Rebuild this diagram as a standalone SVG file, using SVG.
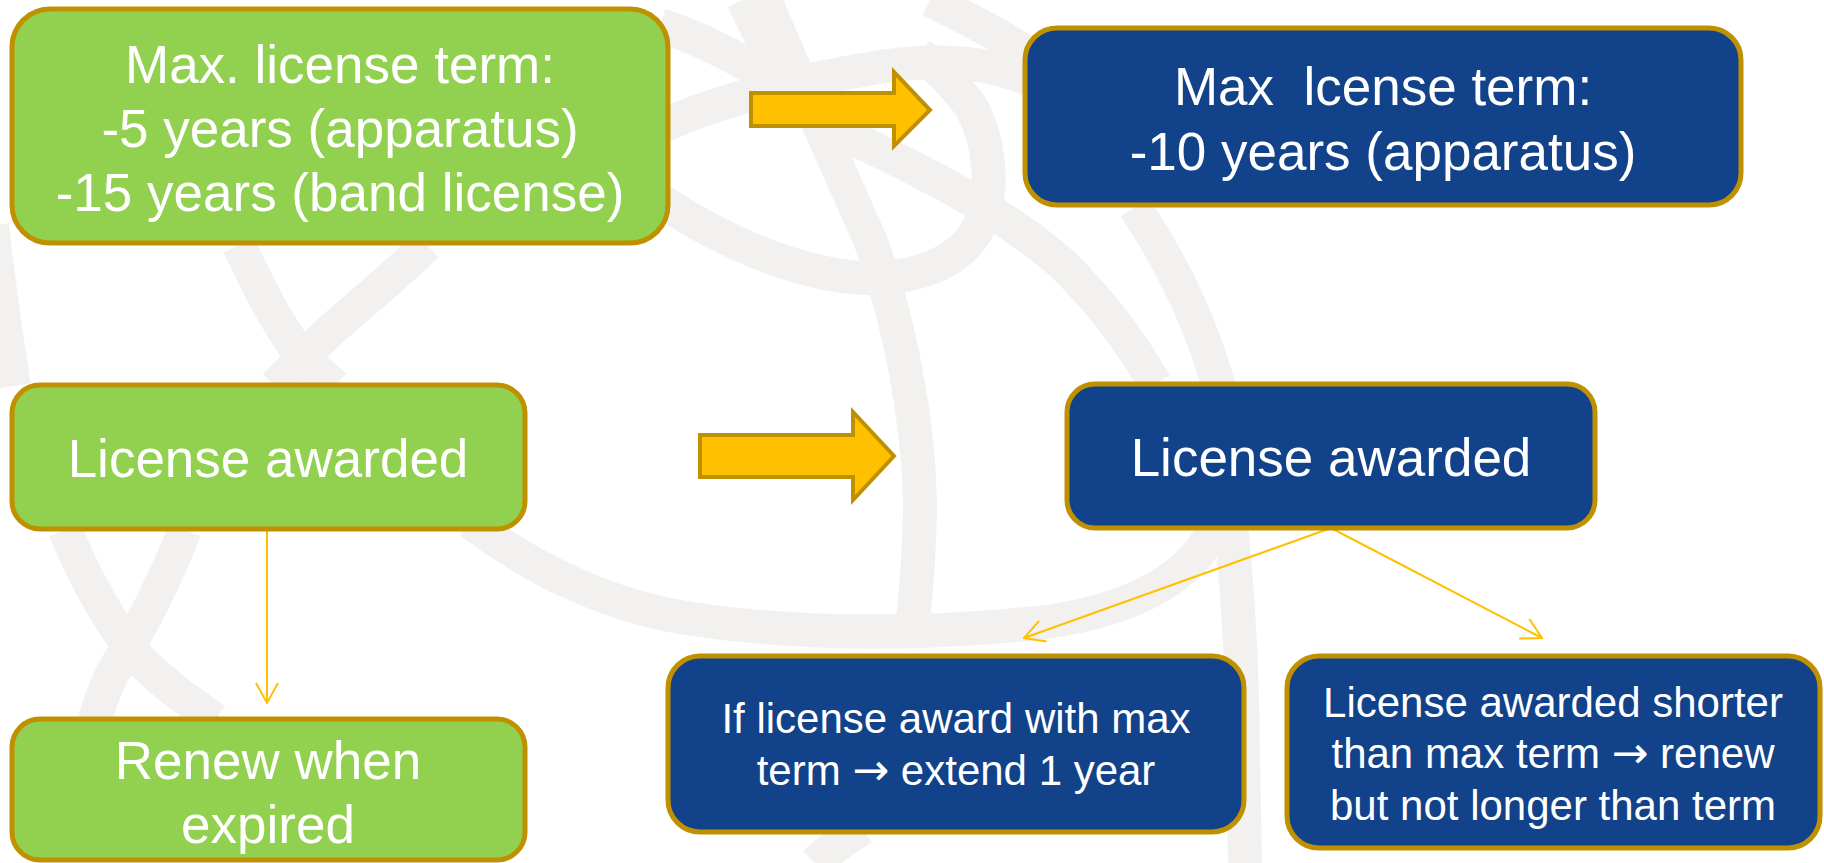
<svg xmlns="http://www.w3.org/2000/svg" width="1824" height="863" viewBox="0 0 1824 863">
<defs>
<style>
.bg{fill:none;stroke:#F2F1EF;stroke-width:34;stroke-linecap:butt}
.green{fill:#92D050;stroke:#BF9000;stroke-width:5}
.blue{fill:#11428A;stroke:#BF9000;stroke-width:5}
.big{font-family:"Liberation Sans",Arial,sans-serif;font-size:53px;fill:#FFFFFF;text-anchor:middle;white-space:pre}
.small{font-family:"Liberation Sans",Arial,sans-serif;font-size:42px;fill:#FFFFFF;text-anchor:middle;white-space:pre}
.arr{font-family:"DejaVu Sans",sans-serif;font-size:44px}
.fat{fill:#FFC000;stroke:#BF9000;stroke-width:4;stroke-linejoin:miter}
.conn{fill:none;stroke:#FFC000;stroke-width:2}
</style>
<marker id="open" viewBox="0 0 22 24" refX="21" refY="12" markerWidth="22" markerHeight="24" markerUnits="userSpaceOnUse" orient="auto">
<path d="M 1 1 L 21 12 L 1 23" fill="none" stroke="#FFC000" stroke-width="2"/>
</marker>
</defs>
<rect x="0" y="0" width="1824" height="863" fill="#FFFFFF"/>
<g id="background">
<path class="bg" d="M 470 522 C 540 575 620 610 700 620 C 800 635 930 635 1046 622 C 1130 610 1190 580 1215 527 L 1218 384 C 1200 320 1170 260 1135 207"/>
<path class="bg" d="M 1215 400 C 1230 500 1240 600 1242 700 L 1245 863"/>
<path class="bg" d="M 765 0 C 790 60 830 150 870 240 C 900 320 918 420 920 500 C 920 560 915 600 912 630"/>
<path class="bg" d="M 660 25 C 720 45 790 85 850 137 C 920 170 1000 210 1060 262 C 1100 300 1130 340 1155 384"/>
<path class="bg" d="M 660 200 C 720 240 800 277 870 278 C 930 278 965 255 980 225 C 995 190 990 140 970 105 C 950 80 935 65 920 55"/>
<path class="bg" d="M 660 127 C 720 100 800 80 880 67 C 940 58 990 62 1030 80"/>
<path class="bg" d="M 930 0 C 970 20 1000 35 1030 55"/>
<path class="bg" d="M 743 0 C 755 25 765 45 778 68"/>
<path class="bg" d="M 239 245 C 260 290 280 330 305 360 L 335 386"/>
<path class="bg" d="M 427 245 C 380 290 340 320 310 350 L 275 386"/>
<path class="bg" d="M -8 225 C 0 300 8 350 14 386"/>
<path class="bg" d="M 65 530 C 90 590 115 630 140 660 C 170 690 195 705 215 720"/>
<path class="bg" d="M 185 530 C 165 580 140 630 120 660 C 108 680 100 700 95 720"/>
<path class="bg" d="M 815 863 C 828 850 845 840 862 828"/>
</g>
<g id="connectors">
<line class="conn" x1="267" y1="531" x2="267" y2="703" marker-end="url(#open)"/>
<line class="conn" x1="1331" y1="528" x2="1024" y2="638" marker-end="url(#open)"/>
<line class="conn" x1="1331" y1="528" x2="1542" y2="638" marker-end="url(#open)"/>
</g>
<g id="arrow1">
<polygon class="fat" points="751,93 894,93 894,72 930,110 894,146 894,126 751,126"/>
</g>
<g id="arrow2">
<polygon class="fat" points="700,435 853,435 853,412 894,456 853,500 853,477 700,477"/>
</g>
<g id="node-green-max">
<rect class="green" x="12" y="9" width="656" height="234" rx="38" ry="38"/>
<text class="big" x="340" y="83">Max. license term:</text>
<text class="big" x="340" y="147">-5 years (apparatus)</text>
<text class="big" x="340" y="211">-15 years (band license)</text>
</g>
<g id="node-blue-max">
<rect class="blue" x="1025" y="28" width="716" height="177" rx="32" ry="32"/>
<text class="big" x="1383" y="105">Max  lcense term:</text>
<text class="big" x="1383" y="170">-10 years (apparatus)</text>
</g>
<g id="node-green-awarded">
<rect class="green" x="12" y="385" width="513" height="144" rx="28" ry="28"/>
<text class="big" x="268" y="477">License awarded</text>
</g>
<g id="node-blue-awarded">
<rect class="blue" x="1067" y="384" width="528" height="144" rx="28" ry="28"/>
<text class="big" x="1331" y="476">License awarded</text>
</g>
<g id="node-green-renew">
<rect class="green" x="12" y="719" width="513" height="141" rx="28" ry="28"/>
<text class="big" x="268" y="779">Renew when</text>
<text class="big" x="268" y="843">expired</text>
</g>
<g id="node-blue-extend">
<rect class="blue" x="668" y="656" width="576" height="176" rx="32" ry="32"/>
<text class="small" x="956" y="733">If license award with max</text>
<text class="small" x="956" y="785">term <tspan class="arr">→</tspan> extend 1 year</text>
</g>
<g id="node-blue-shorter">
<rect class="blue" x="1287" y="656" width="533" height="192" rx="32" ry="32"/>
<text class="small" x="1553" y="717">License awarded shorter</text>
<text class="small" x="1553" y="768">than max term <tspan class="arr">→</tspan> renew</text>
<text class="small" x="1553" y="820">but not longer than term</text>
</g>
</svg>
